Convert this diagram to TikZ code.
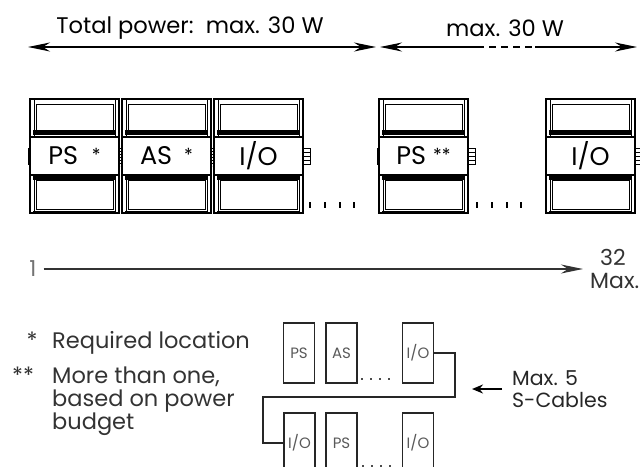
\documentclass[tikz,border=0pt]{standalone}
\usepackage{fontspec}
\setmainfont{Poppins}
\usetikzlibrary{arrows.meta}
\newcommand\plcmod[3]{%
  \begin{scope}[shift={(#2,0)}]
    \draw[modframe] (0,99) rectangle (89,213);
    \draw[modthin] (4,99) -- (4,137) (85,99) -- (85,137);
    \draw[modthin] (4,176) -- (4,213) (85,176) -- (85,213);
    \draw[modthin] (6,104) rectangle (83,131);
    \fill (3,130) rectangle (86,135);
    \draw[modframe] (0,137) -- (89,137) (0,175) -- (89,175);
    \fill (3,175) rectangle (86,180);
    \draw[modthin] (6,180) rectangle (83,209);
    \draw[line width=2pt] (3,212) -- (86,212);
    \draw[line width=1.8pt] (6,99.5) -- (60,99.5);
    \node[modlbl] (#1) at (44.5,156) {#3};
  \end{scope}}
\newcommand\plctab[2]{%
  \draw[modthin] (#1,#2) rectangle ++(7,16);
  \draw[line width=0.6pt] (#1,#2+4) -- ++(7,0) (#1,#2+8) -- ++(7,0) (#1,#2+12) -- ++(7,0);}
\newcommand\plcdots[2]{%
  \foreach \dx in {0,15,30,44} {\fill (#1+\dx-1.2,#2-3) rectangle (#1+\dx+1.2,#2+3);}}
\newcommand\modstar[1]{\raisebox{3pt}{\fontsize{18}{18}\selectfont #1}}
\begin{document}
\begin{tikzpicture}[x=1pt,y=-1pt,
  modframe/.style={line width=1.2pt},
  modthin/.style={line width=0.8pt},
  modlbl/.style={font=\fontsize{25.5}{25.5}\selectfont, inner sep=0pt},
  toptxt/.style={font=\fontsize{22.6}{22.6}\selectfont, inner sep=0pt},
  legtxt/.style={font=\fontsize{22.5}{23}\selectfont, inner sep=0pt, text=black!80, align=left},
  numtxt/.style={font=\fontsize{22}{22}\selectfont, inner sep=0pt, text=black!80},
  pwline/.style={line width=1.4pt},
  pwarrow/.style={line width=1.4pt, -{Stealth[length=22pt,width=9pt,inset=7pt]}},
  sbox/.style={draw=black!85, line width=1.2pt, minimum width=31pt, minimum height=60pt, inner sep=0pt,
    font=\fontsize{15}{15}\selectfont, text=black!65},
  cable/.style={draw=black!85, line width=1.3pt}]
\useasboundingbox (0,0) rectangle (640,466);
\clip (0,0) rectangle (640,466);

% top power labels
\node[toptxt] (tp) at (190,28) {Total power:\ \ max. 30 W};
\node[toptxt] (m30) at (505,28) {max. 30 W};
\coordinate (a1) at (28,47);
\coordinate (a2) at (376,47);
\coordinate (a3) at (380,47);
\coordinate (a4) at (477,47);
\coordinate (a5) at (535,47);
\coordinate (a6) at (637,47);
\draw[pwarrow] (tp |- a1) -- (a1);
\draw[pwarrow] (tp |- a1) -- (a2);
\draw[pwarrow] (a4) -- (a3);
\draw[pwline, dash pattern=on 7pt off 5pt] (a4) -- (a5);
\draw[pwarrow] (a5) -- (a6);

% modules
\plcmod{ps1}{30}{PS\hspace{14pt}\modstar{*}}
\plcmod{as1}{122}{AS\hspace{12pt}\modstar{*}}
\plcmod{io1}{214}{I/O}
\plcmod{ps2}{379}{PS\hspace{7pt}\modstar{**}}
\plcmod{io2}{546}{I/O}
\fill (27.5,148) rectangle (30.5,165);
\fill (376.5,148) rectangle (379.5,165);
\draw[line width=1pt, dotted] (120.5,148) -- (120.5,166);
\draw[line width=1pt, dotted] (212.5,148) -- (212.5,166);
\plctab{303}{148}
\plctab{468}{148}
\plctab{635}{148}
\plcdots{310}{205}
\plcdots{477}{205}

% bottom count arrow
\node[numtxt, text=black!55] (one) at (33,269) {1};
\coordinate (n32end) at (583,269);
\draw[pwarrow, draw=black!80] ([xshift=7pt]one.east) -- (n32end);
\node[numtxt] (n32) at (613,257) {32};
\node[numtxt, anchor=west] (nmax) at (590,281) {Max.};

% legend
\node[legtxt] (st1) at (32,340) {*};
\node[legtxt] (st2) at (23,375) {**};
\node[legtxt, anchor=west] (req) at (52,343) {Required location};
\node[legtxt, anchor=north west] (more) at (52,367) {More than one,\\based on power\\budget};

% small layout
\node[sbox] (sps) at (299,353) {PS};
\node[sbox] (sas) at (341.5,353) {AS};
\node[sbox] (sio1) at (418,353) {I/O};
\node[sbox] (bio1) at (299.5,443) {I/O};
\node[sbox] (bps) at (341.5,443) {PS};
\node[sbox] (bio2) at (418,443) {I/O};
\foreach \dx in {0,9,18,27} {\fill[black!70] (361+\dx,378) rectangle ++(2.2,2.2);}
\foreach \dx in {0,9,18,27} {\fill[black!70] (362+\dx,465) rectangle ++(2.2,2.2);}
\draw[cable] (sio1.east) -- (455,353) |- (263,397) |- (bio1.west);

\node[legtxt, font=\fontsize{20.5}{22.5}\selectfont, anchor=west, text=black!85] (mx5) at (512,389) {Max. 5\\S-Cables};
\coordinate (mxa) at (472,389);
\draw[line width=2.6pt, -{Stealth[length=11pt,width=9pt]}] ([xshift=-10pt]mx5.west) -- (mxa);
\end{tikzpicture}
\end{document}
